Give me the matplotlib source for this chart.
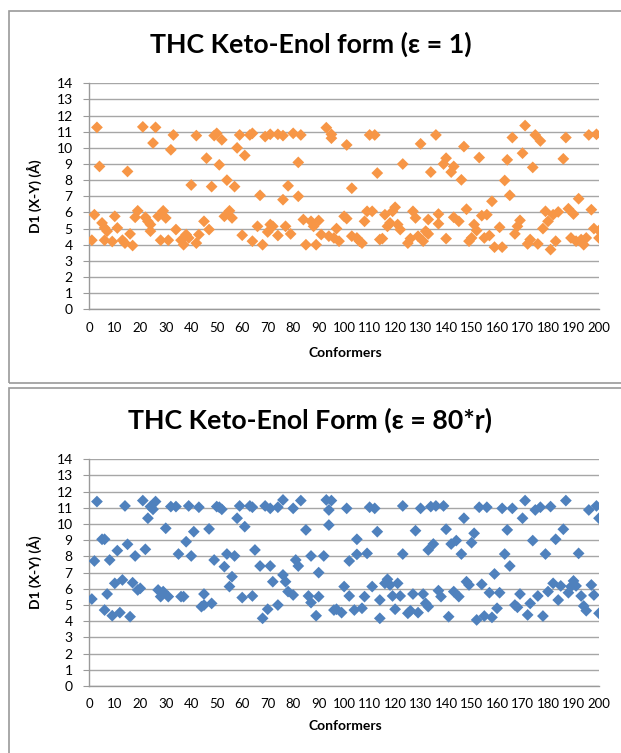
import numpy as np
import matplotlib
matplotlib.use("Agg")
import matplotlib.pyplot as plt
from matplotlib.patches import Rectangle

plt.rcParams['font.family'] = ['Lato', 'DejaVu Sans']

# D1 distance per conformer, dielectric 1
top_conf = [1, 2, 3, 4, 5, 6, 6, 7, 9, 10, 11, 13, 14, 15, 16, 17, 18, 19, 21, 22,
            23, 24, 24, 25, 26, 27, 28, 29, 30, 31, 32, 33, 34, 36, 37, 38, 39, 40, 42, 42,
            43, 45, 46, 47, 48, 49, 50, 51, 52, 53, 54, 55, 56, 57, 58, 59,
            60, 61, 63, 64, 64, 66, 67, 68, 69, 70, 71, 71, 72, 74, 74, 76, 76, 77, 78, 79,
            80, 82, 82, 83, 84, 85, 87, 88, 89, 90, 91, 93, 94, 95, 95, 96, 97, 98, 100, 101,
            101, 103, 103, 105, 106, 107, 108, 109, 110, 111, 112, 113, 114, 115, 116, 117, 118, 119, 120, 121,
            122, 123, 125, 126, 127, 128, 129, 130, 131, 132, 133, 134,
            133, 136, 137, 137, 139, 140, 140, 142, 143, 143, 145, 146, 147, 148, 149, 150, 151, 152, 153, 154,
            155, 156, 157, 158, 159, 161, 162, 163, 164, 165, 166, 167, 168, 169, 170, 171, 172, 173, 174, 175,
            176, 177, 178, 179, 180, 181, 182, 183, 184, 186, 187, 188, 189, 190, 191, 192, 193, 194, 195, 196,
            197, 198, 199, 200, 200]
top_d1 = [4.28, 5.86, 11.27, 8.85, 5.35, 5.04, 4.28, 4.84, 4.2, 5.76, 5.04, 4.28, 4.1, 8.54, 4.67, 3.95, 5.7, 6.1, 11.3, 5.7,
          5.45, 4.84, 5.25, 10.3, 11.27, 5.76, 4.28, 6.1, 5.66, 4.28, 9.88, 10.8, 4.94, 4.28, 4.0, 4.63, 4.42, 7.7, 4.1, 10.76,
          4.63, 5.45, 9.36, 4.94, 7.6, 10.76, 10.9, 8.95, 10.5, 5.76, 8.0, 6.1, 5.66, 7.6, 10.0, 10.8,
          4.59, 9.53, 10.8, 4.22, 10.9, 5.14, 7.06, 4.0, 10.7, 4.79, 10.84, 5.25, 5.14, 10.84, 4.57, 10.76, 6.79, 5.14, 7.65, 4.67,
          10.9, 9.1, 7.0, 10.8, 5.56, 4.0, 5.45, 5.14, 4.0, 5.5, 4.63, 11.25, 4.53, 10.6, 10.84, 4.42, 5.0, 4.22, 5.76, 10.18,
          5.62, 7.5, 4.53, 4.42, 4.22, 4.1, 5.45, 6.07, 10.8, 6.07, 10.8, 8.44, 4.32, 4.38, 5.86, 5.14, 5.35, 6.07, 6.32, 5.25,
          4.94, 9.0, 4.1, 4.38, 6.07, 5.66, 4.53, 10.25, 4.22, 4.84, 5.56, 8.5,
          4.67, 10.8, 5.9, 5.3, 9.0, 9.36, 4.38, 8.5, 5.7, 8.85, 5.45, 8.02, 10.08, 6.2, 4.22, 4.42, 5.25, 4.88, 9.4, 5.8,
          4.42, 5.86, 4.57, 6.69, 3.85, 5.08, 3.85, 7.98, 9.26, 7.06, 10.64, 4.67, 5.14, 5.51, 9.67, 11.38, 4.05, 4.32, 8.79, 10.8,
          4.05, 10.43, 5.0, 6.07, 5.45, 3.7, 5.86, 4.22, 6.03, 9.32, 10.64, 6.23, 4.42, 5.9, 4.22, 6.85, 4.32, 4.0, 4.42, 10.8,
          6.17, 5.0, 10.84, 4.42, 4.88]

# D1 distance per conformer, dielectric 80*r
bot_conf = [1, 2, 3, 5, 6, 6, 7, 8, 9, 10, 11, 12, 13, 14, 15, 16, 17, 18, 19, 20,
            21, 22, 23, 24, 25, 26, 27, 28, 29, 30, 31, 32, 34, 35, 36, 37, 38, 39, 40, 41,
            43, 44, 45, 45, 47, 48, 49, 50, 51, 52, 53, 54, 55, 56, 57, 58, 59,
            60, 61, 63, 64, 64, 65, 67, 68, 69, 70, 71, 71, 72, 74, 74, 76, 76, 77, 78, 80,
            80, 81, 82, 83, 85, 86, 87, 87, 89, 90, 90, 92, 93, 94, 94, 95, 96, 97, 99, 100,
            101, 102, 102, 104, 105, 105, 107, 108, 109, 110, 111, 112, 113, 114, 114, 116, 117, 118, 119, 120,
            121, 122, 123, 123, 125, 126, 127, 128, 129, 130, 131, 132, 133, 134,
            133, 135, 136, 137, 138, 139, 140, 141, 142, 143, 144, 145, 146, 147, 148, 149, 150, 151, 152, 153,
            154, 155, 156, 157, 158, 159, 160, 161, 162, 163, 164, 165, 166, 167, 168, 169, 170, 171, 172, 173,
            174, 175, 176, 177, 178, 179, 180, 181, 182, 183, 184, 185, 186, 187, 188, 189, 190, 191, 192, 193,
            194, 195, 196, 197, 198, 199, 200, 200]
bot_d1 = [5.37, 7.72, 11.39, 9.06, 9.06, 4.69, 5.68, 7.78, 4.34, 6.34, 8.36, 4.53, 6.55, 11.12, 8.75, 4.28, 6.38, 8.03, 5.93, 6.03,
          11.45, 8.44, 10.36, 11.08, 10.91, 11.39, 5.93, 5.52, 5.83, 9.74, 5.52, 11.08, 11.08, 8.15, 5.52, 5.52, 8.91, 11.12, 8.03, 9.53,
          11.04, 4.9, 5.68, 5.0, 9.7, 5.1, 7.78, 11.08, 11.04, 10.91, 7.37, 8.15, 6.14, 6.75, 8.03, 10.36, 11.12,
          5.46, 9.84, 11.12, 5.56, 11.04, 8.4, 7.41, 4.18, 11.12, 4.74, 10.97, 7.41, 6.44, 11.04, 5.0, 11.49, 6.86, 6.44, 5.83, 5.62,
          10.97, 7.78, 7.41, 11.45, 9.64, 5.56, 5.15, 8.03, 4.34, 5.52, 7.0, 8.03, 11.49, 9.94, 10.87, 11.45, 4.69, 4.74, 4.53, 6.14,
          10.97, 5.56, 7.72, 4.69, 9.06, 8.13, 4.8, 5.52, 8.19, 11.04, 6.14, 10.97, 9.53, 5.31, 4.18, 6.34, 6.59, 6.24, 5.56, 4.74,
          6.34, 5.56, 8.15, 11.12, 4.49, 4.65, 5.68, 9.59, 4.53, 10.97, 5.68, 5.1, 8.4, 11.08,
          4.9, 8.77, 11.12, 5.89, 5.52, 11.12, 9.68, 4.28, 8.77, 5.83, 8.98, 5.52, 8.15, 10.36, 6.44, 6.24, 8.85, 9.43, 4.08, 11.04,
          6.28, 4.32, 11.04, 5.76, 4.24, 6.92, 4.8, 5.76, 10.97, 8.15, 9.64, 7.41, 10.97, 5.0, 4.86, 5.68, 10.36, 11.45, 4.39, 5.1,
          8.98, 10.87, 5.56, 11.04, 4.32, 8.15, 5.83, 11.08, 6.34, 9.06, 5.31, 6.18, 9.68, 11.45, 5.76, 6.14, 6.49, 6.18, 8.19, 5.56,
          4.94, 4.65, 10.87, 6.24, 5.62, 11.12, 4.49, 10.36]

titles = ["THC Keto-Enol form (\u03b5 = 1)", "THC Keto-Enol Form (\u03b5 = 80*r)"]
colors = ["#F79646", "#4F81BD"]

W, H = 621, 753
fig = plt.figure(figsize=(W / 100, H / 100), dpi=100)

def fx(px):
    return px / W

def fy(py):
    return 1 - py / H

# chart frames
for y0, y1 in [(11, 383), (388, 760)]:
    fig.patches.append(Rectangle((fx(9), fy(y1)), fx(640) - fx(9), fy(y0) - fy(y1),
                                 transform=fig.transFigure, fill=False,
                                 edgecolor="#9a9a9a", lw=1.2))

panels = [
    (top_conf, top_d1, 83.3, 309.3, 44, 353),
    (bot_conf, bot_d1, 459.3, 686.0, 420, 726),
]

for k, (xs, ys, ptop, pbot, ty, xl) in enumerate(panels):
    ax = fig.add_axes([fx(89.3), fy(pbot), fx(599) - fx(89.3), fy(ptop) - fy(pbot)])
    ax.scatter(xs, ys, marker="D", s=36, color=colors[k], edgecolors="none", zorder=3)
    ax.set_xlim(0, 200)
    ax.set_ylim(0, 14)
    ax.set_xticks(np.arange(0, 201, 10))
    ax.set_yticks(np.arange(0, 15, 1))
    ax.yaxis.grid(True, color="#a6a6a6", lw=1.0)
    ax.set_axisbelow(True)
    for s in ["top", "right"]:
        ax.spines[s].set_visible(False)
    for s in ["left", "bottom"]:
        ax.spines[s].set_color("#9a9a9a")
        ax.spines[s].set_linewidth(1.0)
    ax.tick_params(axis="y", length=4, color="#9a9a9a", labelsize=10, pad=8)
    ax.tick_params(axis="x", length=0, labelsize=9.5, pad=9)
    ax.set_ylabel("D1 (X-Y) (\u00c5)", fontsize=10, fontweight="bold", labelpad=10)
    fig.text(0.5, fy(ty), titles[k], ha="center", va="center", fontsize=19.3, fontweight="bold")
    fig.text(fx(345), fy(xl), "Conformers", ha="center", va="center", fontsize=10, fontweight="bold")

fig.savefig("out.png", dpi=100)
